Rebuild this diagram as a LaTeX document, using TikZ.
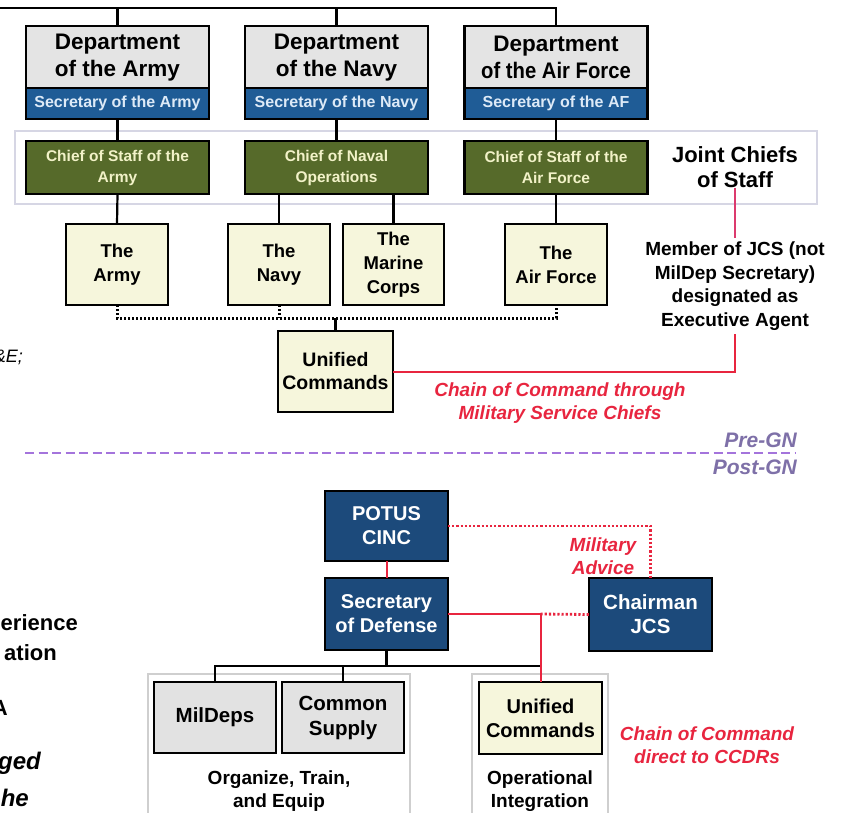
\documentclass[tikz,border=0pt]{standalone}
\usepackage{fontspec}
\setmainfont{Liberation Sans}
\definecolor{deptgray}{HTML}{E4E4E4}
\definecolor{secblue}{HTML}{1F5C96}
\definecolor{seclight}{HTML}{DDEAF7}
\definecolor{olivec}{HTML}{566A2A}
\definecolor{olivetext}{HTML}{F2F2C8}
\definecolor{svcyellow}{HTML}{F6F6DC}
\definecolor{navyc}{HTML}{1C4A7B}
\definecolor{redc}{HTML}{E8253F}
\definecolor{pinkc}{HTML}{DC3A6E}
\definecolor{purpc}{HTML}{A474DC}
\definecolor{purptext}{HTML}{7E70A8}
\definecolor{groupgray}{HTML}{CFCFCF}
\definecolor{bandgray}{HTML}{D6D6E4}
\definecolor{lightgray}{HTML}{E2E2E2}
\tikzset{
  box/.style={draw=black, line width=2.2pt, inner sep=0pt, outer sep=0pt, align=center},
  dept/.style={box, fill=deptgray, minimum width=183pt, minimum height=63pt, font=\bfseries\fontsize{22.5}{26.5}\selectfont},
  secband/.style={box, fill=secblue, text=seclight, minimum width=183pt, minimum height=31pt, font=\bfseries\fontsize{16}{19}\selectfont},
  chief/.style={box, fill=olivec, text=olivetext, minimum width=183pt, minimum height=53pt, font=\bfseries\fontsize{15.5}{21}\selectfont},
  svc/.style={box, fill=svcyellow, minimum height=81pt, font=\bfseries\fontsize{18.5}{24}\selectfont},
  navybox/.style={box, fill=navyc, text=white, minimum width=123pt, font=\bfseries\fontsize{20}{24}\selectfont},
  graybox/.style={box, fill=lightgray, minimum width=122pt, minimum height=71pt, font=\bfseries\fontsize{20.5}{25}\selectfont},
  plain/.style={align=center, inner sep=0pt, font=\bfseries\fontsize{19}{23.5}\selectfont},
  redtext/.style={align=center, inner sep=0pt, text=redc, font=\bfseries\itshape\fontsize{19}{23}\selectfont},
  conn/.style={line width=2.2pt, black},
  redline/.style={line width=2pt, redc},
  dotline/.style={line width=3pt, black, dash pattern=on 2.2pt off 1.8pt},
  reddot/.style={line width=2.8pt, redc, dash pattern=on 2.2pt off 2pt},
  group/.style={draw=groupgray, line width=1.2pt, fill=white, inner sep=0pt},
  frag/.style={inner sep=0pt, anchor=east, font=\bfseries\fontsize{22}{26}\selectfont}
}
\begin{document}
\begin{tikzpicture}[x=1pt,y=-1pt]
\useasboundingbox (0,0) rectangle (846,812);
\clip (0,0) rectangle (846,812);
\fill[white] (0,0) rectangle (846,812);

% Joint Chiefs band
\node[draw=bandgray, line width=1.2pt, fill=white, minimum width=802pt, minimum height=73pt, inner sep=0pt] (band) at (416,167.5) {};

% Departments
\node[dept] (armyd) at (117.5,57.5) {Department\\of the Army};
\node[secband] (armys) at (117.5,103.5) {Secretary of the Army};
\node[dept] (navyd) at (336.5,57.5) {Department\\of the Navy};
\node[secband] (navys) at (336.5,103.5) {Secretary of the Navy};
\node[dept] (afd) at (556,57.5) {Department\\\scalebox{0.9}[1]{of the Air Force}};
\node[secband] (afs) at (556,103.5) {Secretary of the AF};

% Chiefs
\node[chief] (armyc) at (117.5,167.5) {Chief of Staff of the\\Army};
\node[chief] (navyc) at (336.5,167.5) {Chief of Naval\\Operations};
\node[chief] (afc) at (556,167.5) {Chief of Staff of the\\Air Force};
\node[align=center, inner sep=0pt, font=\bfseries\fontsize{22}{25}\selectfont] (jcs) at (735,167) {Joint Chiefs\\of Staff};

% Services
\node[svc, minimum width=102pt] (armysvc) at (117,264.5) {The\\Army};
\node[svc, minimum width=102pt] (navysvc) at (279,264.5) {The\\Navy};
\node[svc, minimum width=101pt] (marsvc) at (393.5,264.5) {The\\Marine\\Corps};
\node[svc, minimum width=102pt] (afsvc) at (556,264.5) {The\\Air Force};
\node[svc, minimum width=115pt, font=\bfseries\fontsize{19.5}{23}\selectfont] (unit) at (335.5,371.5) {Unified\\Commands};

\node[plain, inner sep=4pt] (member) at (735,286) {Member of JCS (not\\MilDep Secretary)\\designated as\\Executive Agent};

% top connectors
\coordinate (topL) at (0,8);
\draw[conn] (topL) -| (afd.north);
\draw[conn] (armyd.north) -- (armyd.north |- topL);
\draw[conn] (navyd.north) -- (navyd.north |- topL);
\draw[conn] (armys.south) -- (armyc.north);
\draw[conn] (navys.south) -- (navyc.north);
\draw[conn] (afs.south) -- (afc.north);
\draw[conn] (armyc.south) -- (armysvc.north);
\draw[conn] (navysvc.north) -- (navysvc.north |- navyc.south);
\draw[conn] (marsvc.north) -- (marsvc.north |- navyc.south);
\draw[conn] (afc.south) -- (afsvc.north);

% dotted
\coordinate (dotL) at (117,318);
\coordinate (dotR) at (556,318);
\draw[dotline] (armysvc.south) -- (dotL) -- (dotR) -- (afsvc.south);
\draw[dotline] (navysvc.south) -- (navysvc.south |- dotL);
\draw[conn] (unit.north) -- (unit.north |- dotL);

% red pre-GN
\draw[line width=2pt, pinkc] (jcs.south) -- (member.north);
\draw[redline] (member.south) |- (unit.east);
\node[redtext] (chain1) at (560,403) {Chain of Command through\\Military Service Chiefs};

% divider
\coordinate (pL) at (25,453);
\coordinate (pR) at (795,453);
\draw[purpc, line width=2pt, dash pattern=on 9pt off 4.5pt] (pL) -- (pR);
\node[inner sep=0pt, anchor=east, text=purptext, font=\bfseries\itshape\fontsize{21}{24}\selectfont] (pre) at (797,440) {Pre-GN};
\node[inner sep=0pt, anchor=east, text=purptext, font=\bfseries\itshape\fontsize{21}{24}\selectfont] (post) at (797,467) {Post-GN};

% Post-GN groups
\node[group, minimum width=262pt, minimum height=160pt] (grpL) at (279,754) {};
\node[group, minimum width=136pt, minimum height=160pt] (grpR) at (540,754) {};

\node[navybox, minimum height=70pt] (potus) at (386.5,526) {POTUS\\CINC};
\node[navybox, minimum height=72pt] (secdef) at (386.5,614) {Secretary\\of Defense};
\node[navybox, minimum height=73pt, font=\bfseries\fontsize{20.5}{24}\selectfont] (chair) at (650.5,614.5) {Chairman\\JCS};

\node[graybox] (mildeps) at (215,717.5) {MilDeps};
\node[graybox] (common) at (343,717.5) {Common\\Supply};
\node[box, fill=svcyellow, minimum width=123pt, minimum height=72pt, font=\bfseries\fontsize{20}{24}\selectfont] (ucb) at (540.5,718) {Unified\\Commands};

\node[plain] (otrain) at (279,791) {Organize, Train,\\and Equip};
\node[plain] (opint) at (540,791) {Operational\\Integration};

\node[redtext] (advice) at (603,556) {Military\\Advice};
\node[redtext] (chain2) at (707,745) {Chain of Command\\direct to CCDRs};

% post-GN connectors
\draw[redline] (potus.south) -- (secdef.north);
\draw[reddot] (potus.east) -| (chair.north);
\coordinate (rj) at (540.5,614);
\draw[redline] (secdef.east) -- (rj);
\draw[reddot] (rj) -- (chair.west);
\coordinate (bj) at (540.5,666);
\draw[conn] (secdef.south) -- (secdef.south |- bj);
\draw[conn] (mildeps.north) |- (bj);
\draw[conn] (common.north) -- (common.north |- bj);
\draw[redline] (rj) -- (ucb.north);

% cut-off text fragments at left edge (as in the reference)
\node[inner sep=0pt, anchor=east, font=\itshape\fontsize{18}{22}\selectfont] (f1) at (23,357) {\&E;};
\node[frag] (f2) at (78,623) {erience};
\node[frag] (f3) at (57,653) {ation};
\node[frag] (f4) at (8,708) {A};
\node[frag, font=\bfseries\itshape\fontsize{24}{28}\selectfont] (f5) at (41,763) {ged};
\node[frag, font=\bfseries\itshape\fontsize{24}{28}\selectfont] (f6) at (29,798) {he};
\end{tikzpicture}
\end{document}
